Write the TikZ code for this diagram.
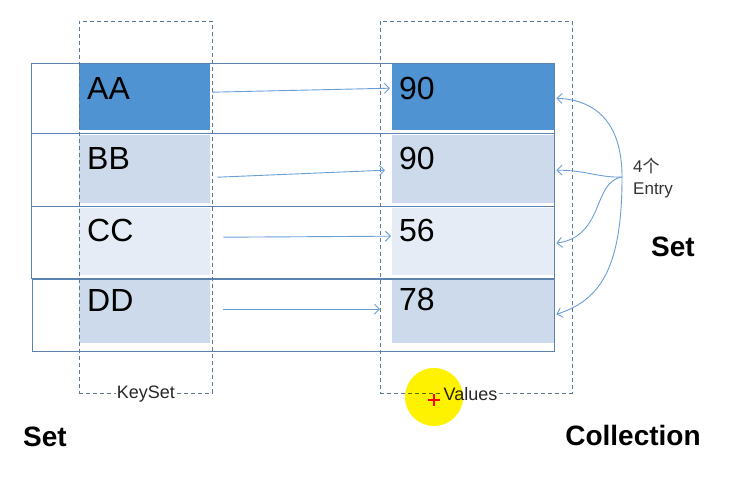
\documentclass[tikz,border=0pt]{standalone}
\usepackage{fontspec}
\setmainfont{Liberation Sans}
\newfontfamily\cjk{Noto Sans CJK SC}
\usepackage{tikz}
\usetikzlibrary{arrows.meta}

\definecolor{darkcell}{HTML}{4F93D3}
\definecolor{lightcell}{HTML}{CDDAEB}
\definecolor{palecell}{HTML}{E6ECF5}
\definecolor{rowline}{HTML}{5B82B0}
\definecolor{boxline}{HTML}{5A7898}
\definecolor{arrowblue}{HTML}{6A9FD6}

\begin{document}
\begin{tikzpicture}[x=1pt,y=-1pt,
        rowbox/.style={draw=rowline, line width=0.8pt},
        keycell/.style={rectangle, anchor=north west, inner sep=0pt, minimum width=131pt},
        valcell/.style={rectangle, anchor=north west, inner sep=0pt, minimum width=162pt},
        cellnum/.style={anchor=west, inner sep=0pt, font=\fontsize{32}{36}\selectfont},
        setbox/.style={draw=boxline, dash pattern=on 4pt off 3pt, line width=0.9pt, anchor=north west, inner sep=0pt},
        boxlabel/.style={fill=white, inner sep=1pt, text=black!85, font=\fontsize{18}{20}\selectfont},
        link/.style={draw=arrowblue, line width=0.9pt, -{Straight Barb[length=5pt,width=10pt]}},
        title/.style={font=\fontsize{28}{32}\selectfont\bfseries}]
        \useasboundingbox[fill=white] (0,0) rectangle (738,486);
        % key cells
        \node[keycell, fill=darkcell, minimum height=67pt] (k1) at (79,63) {};
        \node[keycell, fill=lightcell, minimum height=68pt] (k2) at (79,135) {};
        \node[keycell, fill=palecell, minimum height=67pt] (k3) at (79,208) {};
        \node[keycell, fill=lightcell, minimum height=63pt] (k4) at (79,280) {};
        % value cells
        \node[valcell, fill=darkcell, minimum height=67pt] (v1) at (392,63) {};
        \node[valcell, fill=lightcell, minimum height=68pt] (v2) at (392,135) {};
        \node[valcell, fill=palecell, minimum height=67pt] (v3) at (392,208) {};
        \node[valcell, fill=lightcell, minimum height=63pt] (v4) at (392,280) {};
        % rows
        \draw[rowbox] (31,63) rectangle (554,133);
        \draw[rowbox] (31,133) rectangle (554,206);
        \draw[rowbox] (31,206) rectangle (554,278);
        \draw[rowbox] (32,279) rectangle (554,351);
        % texts
        \node[cellnum] (ka) at (87,88) {AA};
        \node[cellnum] (kb) at (87,158) {BB};
        \node[cellnum] (kc) at (87,230) {CC};
        \node[cellnum] (kd) at (87,300) {DD};
        \node[cellnum] (va) at (399,88) {90};
        \node[cellnum] (vb) at (399,158) {90};
        \node[cellnum] (vc) at (399,230) {56};
        \node[cellnum] (vd) at (399,299) {78};
        % dashed sets
        \node[setbox, minimum width=133pt, minimum height=372pt] (keyset) at (79,21) {};
        \node[setbox, minimum width=192pt, minimum height=372pt] (valset) at (380,21) {};
        \node[boxlabel] (keylbl) at (keyset.south) {KeySet};
        \node[boxlabel] (vallbl) at ([xshift=-6pt]valset.south) {Values};
        % key -> value
        \draw[link] ([xshift=2pt,yshift=4.5pt]k1.east) -- ([xshift=-2pt,yshift=8.5pt]v1.west);
        \draw[link] ([xshift=7pt,yshift=-8pt]k2.east) -- ([xshift=-7pt,yshift=-1pt]v2.west);
        \draw[link] ([xshift=13pt,yshift=4.5pt]k3.east) -- ([xshift=-1pt,yshift=5.5pt]v3.west);
        \draw[link] ([xshift=13pt,yshift=2.5pt]k4.east) -- ([xshift=-12pt,yshift=2.5pt]v4.west);
        % entries
        \coordinate (hub) at (622,177);
        \draw[link] (hub) .. controls (622,125) and (598,100) .. ([xshift=2pt,yshift=-1.5pt]v1.east);
        \draw[link] (hub) .. controls (600,178) and (585,170) .. ([xshift=2pt,yshift=-1pt]v2.east);
        \draw[link] (hub) .. controls (592,182) and (605,236) .. ([xshift=2pt,yshift=-1.5pt]v3.east);
        \draw[link] (hub) .. controls (622,265) and (602,300) .. ([xshift=2pt,yshift=-2.5pt]v4.east);
        \node[anchor=north west, align=left, inner sep=0pt, text=black!80, font=\fontsize{17}{22}\selectfont] (entry) at (633,158) {4{\cjk 个}\\Entry};
        % titles
        \node[title] (setr) at (673,247) {Set};
        \node[title] (setl) at (45,437) {Set};
        \node[title] (coll) at (633,435) {Collection};
        % cursor mark
        \fill[yellow, blend mode=multiply] (434,397) circle [radius=29];
        \draw[red, line width=1.5pt] (428,400) -- (440,400) (434,394) -- (434,406);
\end{tikzpicture}
\end{document}
